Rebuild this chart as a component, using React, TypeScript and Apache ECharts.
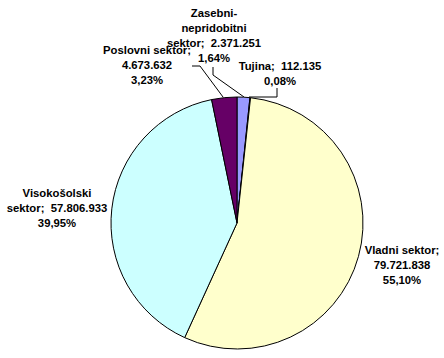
import React, { useEffect, useRef } from 'react';
import * as echarts from 'echarts';

// Data (clockwise from 12 o'clock)
const categories = ['Zasebni-nepridobitni sektor', 'Tujina', 'Vladni sektor', 'Visokošolski sektor', 'Poslovni sektor'];
const values = [2371251, 112135, 79721838, 57806933, 4673632];
const colors = ['#9999FF', '#993366', '#FFFFCC', '#CCFFFF', '#660066'];

// Label layout (positions, wrap width in characters, leader line points)
const labelLayouts: { x: number; y: number; wrap: number; line: number[][] | null }[] = [
  { x: 214, y: 35, wrap: 18, line: [[244, 97], [213, 75], [213, 67]] },
  { x: 280, y: 73, wrap: 16, line: [[249, 97], [277, 97], [277, 88]] },
  { x: 402, y: 265, wrap: 16, line: null },
  { x: 57, y: 208, wrap: 19, line: null },
  { x: 147, y: 65, wrap: 16, line: [[223, 97], [200, 66], [192, 66]] },
];

function fmtNum(n: number): string {
  return String(n).replace(/\B(?=(\d{3})+(?!\d))/g, '.');
}

function buildLabel(name: string, valueStr: string, pct: string, max: number): string {
  const items: { t: string; sep: string }[] = [];
  name.split(' ').forEach((w, wi) => {
    w.split(/(?<=-)/).forEach((p, pi) => items.push({ t: p, sep: pi > 0 ? '' : wi > 0 ? ' ' : '' }));
  });
  items[items.length - 1].t += ';';
  items.push({ t: valueStr, sep: '  ' });
  const lines: string[] = [];
  let cur = '';
  items.forEach((it) => {
    if (!cur) cur = it.t;
    else if ((cur + it.sep + it.t).length <= max) cur += it.sep + it.t;
    else {
      lines.push(cur);
      cur = it.t;
    }
  });
  lines.push(cur);
  lines.push(pct);
  return lines.join('\n');
}

export default function App() {
  const ref = useRef<HTMLDivElement>(null);
  useEffect(() => {
    if (!ref.current) return;
    const chart = echarts.init(ref.current, undefined, { renderer: 'svg' });
    chart.setOption({
      animation: false,
      backgroundColor: '#ffffff',
      series: [
        {
          type: 'pie',
          center: [237, 223],
          radius: 126,
          startAngle: 90,
          clockwise: true,
          avoidLabelOverlap: false,
          emphasis: { disabled: true },
          data: values.map((v, i) => ({
            value: v,
            name: categories[i],
            itemStyle: { color: colors[i] },
            labelLine: { show: !!labelLayouts[i].line },
          })),
          itemStyle: { borderColor: '#000000', borderWidth: 1 },
          label: {
            show: true,
            color: '#000000',
            fontFamily: '"Liberation Sans", Arial, sans-serif',
            fontWeight: 'bold',
            fontSize: 11.3,
            lineHeight: 15,
            align: 'center',
            formatter: (p: any) =>
              buildLabel(
                p.name,
                fmtNum(p.value),
                Number(p.percent).toFixed(2).replace('.', ',') + '%',
                labelLayouts[p.dataIndex].wrap
              ),
          },
          labelLine: { show: true, length: 10, length2: 10, lineStyle: { color: '#000000', width: 1 } },
          labelLayout: (p: any) => {
            const l = labelLayouts[p.dataIndex];
            const r: any = { x: l.x, y: l.y, align: 'center', verticalAlign: 'middle' };
            if (l.line) r.labelLinePoints = l.line;
            return r;
          },
        },
      ],
    });
    return () => chart.dispose();
  }, []);
  return <div ref={ref} style={{ position: 'absolute', left: 0, top: 0, width: 444, height: 358 }} />;
}
